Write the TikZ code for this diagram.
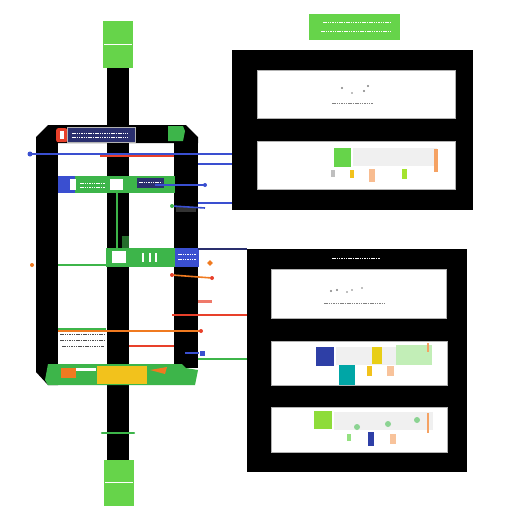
\documentclass[tikz,border=0pt]{standalone}
\usetikzlibrary{arrows.meta,shapes.geometric}
\definecolor{gr}{HTML}{3DB54A}
\definecolor{lgr}{HTML}{66D44A}
\definecolor{nav}{HTML}{2A2F6E}
\definecolor{blu}{HTML}{3A4FD0}
\definecolor{ora}{HTML}{F07A20}
\definecolor{rd}{HTML}{E8402A}
\definecolor{yel}{HTML}{F2C21C}
\definecolor{lim}{HTML}{8EDC3A}
\tikzset{
  blk/.style={fill=black,draw=none,inner sep=0pt,anchor=north west},
  pnl/.style={fill=white,draw=gray!60,line width=0.6pt,inner sep=0pt,anchor=north west},
  gbox/.style={fill=lgr,draw=none,inner sep=0pt,anchor=north west},
  wire/.style={line width=1.6pt},
  dot/.style={circle,inner sep=0pt,minimum size=5pt},
  ftext/.style={line width=0.5pt,dash pattern=on 1.5pt off 0.8pt},
}
\begin{document}
\begin{tikzpicture}[x=1pt,y=-1pt]
\useasboundingbox (0,0) rectangle (512,512);
\fill[white] (0,0) rectangle (512,512);
% central bar
\node[blk,minimum width=22pt,minimum height=395pt] (bar) at (107,66) {};
% top and bottom green boxes
\node[gbox,minimum width=30pt,minimum height=47pt] (gtop) at (103,21) {};
\draw[white,line width=0.6pt] (104,44) -- (132,44);
\node[gbox,minimum width=30pt,minimum height=46pt] (gbot) at (104,460) {};
\draw[white,line width=0.6pt] (105,482) -- (133,482);
\draw[gr,line width=2.2pt,line cap=round] (102,433) -- (134,433);
% left frame
\fill[black] (36,137) -- (48,125) -- (186,125) -- (198,137) -- (198,143) -- (36,143) -- cycle;
\fill[black] (36,137) rectangle (58,372);
\fill[black] (36,372) -- (58,372) -- (58,385) -- (48,385) -- cycle;
\node[blk,minimum width=24pt,minimum height=226pt] (rcol) at (174,142) {};
% top band items
\node[fill=rd,rounded corners=2pt,inner sep=0pt,minimum width=11pt,minimum height=14pt,anchor=north west] (pill) at (56,128) {};
\fill[white] (60,131) rectangle (64,139);
\node[fill=nav,draw=gray!60,inner sep=0pt,minimum width=68pt,minimum height=15pt,anchor=north west] (lab1) at (67,127) {};
\draw[white,ftext] (72,133) -- (128,133);
\draw[white,ftext] (72,137) -- (128,137);
\fill[gr] (168,126) -- (183,126) -- (185,131) -- (183,141) -- (168,141) -- cycle;
% green band row 1
\node[fill=blu,inner sep=0pt,minimum width=18pt,minimum height=17pt,anchor=north west] (brow1) at (58,176) {};
\node[fill=gr,inner sep=0pt,minimum width=100pt,minimum height=17pt,anchor=north west] (grow1) at (75,176) {};
\fill[white] (70,179) rectangle (76,190);
\node[fill=white,inner sep=0pt,minimum width=13pt,minimum height=11pt,anchor=north west] (sq1) at (110,179) {};
\node[fill=nav,inner sep=0pt,minimum width=27pt,minimum height=10pt,anchor=north west] (lab2) at (137,178) {};
\draw[white,ftext] (80,183) -- (105,183);
\draw[white,ftext] (80,187) -- (105,187);
\draw[white,ftext] (139,182) -- (162,182);
% green vertical
\draw[gr,line width=2.5pt] (117,193) -- (117,248);
\fill[gr!60!black] (122,236) rectangle (129,248);
% green band row 2
\node[fill=gr,inner sep=0pt,minimum width=69pt,minimum height=19pt,anchor=north west] (grow2) at (106,248) {};
\node[fill=white,inner sep=0pt,minimum width=14pt,minimum height=12pt,anchor=north west] (sq2) at (112,251) {};
\draw[white,line width=1.2pt] (143,253) -- (143,262) (150,253) -- (150,262) (156,253) -- (156,262);
\node[fill=blu,inner sep=0pt,minimum width=24pt,minimum height=19pt,anchor=north west] (lab3) at (175,248) {};
\draw[white,ftext] (178,254) -- (196,254);
\draw[white,ftext] (178,259) -- (196,259);
% bottom band
\fill[gr] (48,364) -- (182,364) -- (186,368) -- (198,370) -- (195,385) -- (48,385) -- (45,380) -- cycle;
\node[fill=yel,inner sep=0pt,minimum width=50pt,minimum height=18pt,anchor=north west] (ybox) at (97,366) {};
\fill[ora] (61,368) rectangle (76,378);
\fill[white] (76,368) rectangle (96,371);
\fill[ora] (150,370) -- (167,367) -- (165,374) -- cycle;
% frame right side small labels
\fill[black!80] (176,207) rectangle (196,212);
% --- right top box
\node[blk,minimum width=241pt,minimum height=160pt] (boxA) at (232,50) {};
\node[pnl,minimum width=198pt,minimum height=48pt] (pA1) at (257,70) {};
\node[pnl,minimum width=198pt,minimum height=48pt] (pA2) at (257,141) {};
\draw[gray,ftext] (332,103) -- (373,103);
\fill[gray] (342,88) circle (1.2pt) (352,93) circle (0.9pt) (364,91) circle (1.1pt) (368,86) circle (1.2pt);
\node[fill=lgr,inner sep=0pt,minimum width=17pt,minimum height=19pt,anchor=north west] (qa) at (334,148) {};
\fill[gray!12] (353,148) rectangle (437,166);
\fill[ora!70] (434,149) rectangle (438,172);
\fill[gray!50] (331,170) rectangle (335,177);
\fill[yel] (350,170) rectangle (354,178);
\fill[ora!50] (369,169) rectangle (375,182);
\fill[lim!80!yellow] (402,169) rectangle (407,179);
% green title
\node[gbox,minimum width=91pt,minimum height=26pt] (ttl) at (309,14) {};
\draw[white,ftext] (323,22) -- (391,22);
\draw[white,ftext] (321,31) -- (391,31);
% --- right bottom box
\node[blk,minimum width=220pt,minimum height=223pt] (boxB) at (247,249) {};
\draw[white,ftext] (332,258) -- (380,258);
\node[pnl,minimum width=175pt,minimum height=49pt] (pB1) at (271,269) {};
\node[pnl,minimum width=176pt,minimum height=44pt] (pB2) at (271,341) {};
\node[pnl,minimum width=176pt,minimum height=45pt] (pB3) at (271,407) {};
\draw[gray,ftext] (324,303) -- (384,303);
\fill[gray] (331,291) circle (1.1pt) (337,290) circle (1.1pt) (347,292) circle (0.9pt) (352,290) circle (0.9pt) (362,288) circle (0.9pt);
\fill[gray!12] (336,347) rectangle (430,365);
\node[fill=blu!80!black,inner sep=0pt,minimum width=18pt,minimum height=19pt,anchor=north west] (qb1) at (316,347) {};
\node[fill=teal!70!cyan,inner sep=0pt,minimum width=16pt,minimum height=20pt,anchor=north west] (qb2) at (339,365) {};
\fill[yel!80!lime] (372,347) rectangle (382,364);
\fill[yel] (367,366) rectangle (372,376);
\fill[ora!45] (387,366) rectangle (394,376);
\fill[lgr!40] (396,345) rectangle (432,365);
\fill[ora!70] (427,343) rectangle (429,352);
\fill[gray!12] (334,412) rectangle (433,430);
\node[fill=lim,inner sep=0pt,minimum width=18pt,minimum height=18pt,anchor=north west] (qc1) at (314,411) {};
\fill[gr!60] (357,427) circle (3pt) (388,424) circle (3pt) (417,420) circle (3pt);
\fill[lgr!70] (347,434) rectangle (351,441);
\fill[blu!80!black] (368,432) rectangle (374,446);
\fill[ora!45] (390,434) rectangle (396,444);
\fill[ora!70] (427,413) rectangle (429,433);
% --- connectors
\coordinate (l1) at (30,154);
\draw[blu,wire] (l1) -- (boxA.west |- 0,154);
\node[dot,fill=blu] (d1) at (l1) {};
\draw[rd,wire] (100,156) -- (rcol.west |- 0,156);
\draw[blu,wire] (rcol.east |- 0,164) -- (boxA.west |- 0,164);
\draw[blu,wire] (155,185) -- (205,185);
\node[dot,fill=blu,minimum size=4pt] (d2) at (205,185) {};
\draw[blu,wire] (rcol.east |- 0,203) -- (boxA.west |- 0,203);
\node[dot,fill=gr,minimum size=4pt] (d3) at (172,206) {};
\draw[blu,wire] (d3) -- (205,208);
\draw[nav,wire] (rcol.east |- 0,249) -- (boxB.west |- 0,249);
\node[dot,fill=ora,minimum size=4pt] (d4) at (32,265) {};
\draw[gr,wire] (58,265) -- (grow2.west |- 0,265);
\node[diamond,fill=ora,inner sep=0pt,minimum size=6pt] (d5) at (210,263) {};
\node[dot,fill=rd,minimum size=4pt] (d6) at (172,275) {};
\node[dot,fill=rd,minimum size=4pt] (d7) at (212,278) {};
\draw[ora,wire] (d6) -- (d7);
\fill[rd!70] (198,300) rectangle (212,303);
\draw[rd,wire] (172,315) -- (boxB.west |- 0,315);
\draw[ora,wire] (58,331) -- (200,331);
\node[dot,fill=rd,minimum size=4pt] (d8) at (201,331) {};
\draw[gr,wire] (58,329) -- (106,329);
\draw[black!70,ftext] (60,334) -- (105,334) (60,340) -- (105,340) (62,346) -- (104,346);
\draw[rd,wire] (129,346) -- (rcol.west |- 0,346);
\node[fill=blu,inner sep=0pt,minimum size=5pt] (d9) at (202,353) {};
\draw[blu,wire] (185,353) -- (d9);
\draw[gr,wire] (198,359) -- (boxB.west |- 0,359);
\end{tikzpicture}
\end{document}
